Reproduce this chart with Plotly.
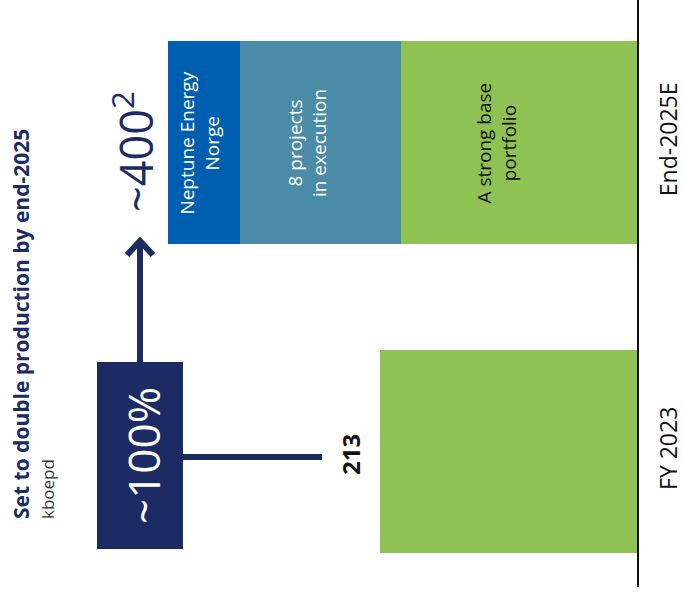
import plotly.graph_objects as go

# data (kboepd)
categories = ["FY 2023", "End-2025E"]
base_portfolio = [213, 196]
projects = [None, 133]
neptune = [None, 60]
segment_labels = ["A strong base<br>portfolio", "8 projects<br>in execution", "Neptune Energy<br>Norge"]

NAVY = "#1c2b64"
GREEN = "#8fc153"
TEAL = "#4a8ca8"
BLUE = "#005eb0"
FONT = "Open Sans"

W, H = 683, 595
ML, MR, MT, MB = 0, 46, 0, 8
PW, PH = W - ML - MR, H - MT - MB


def px(x):
    # pixel -> paper x
    return (x - ML) / PW


def py(y):
    # pixel -> paper y
    return 1 - (y - MT) / PH


fig = go.Figure()

series = [
    (base_portfolio, GREEN, "#111111", -22),
    (projects, TEAL, "white", -13),
    (neptune, BLUE, "white", -4),
]
start = 0
for (vals, color, txtcolor, shift), label in zip(series, segment_labels):
    fig.add_trace(go.Bar(
        y=categories, x=vals, orientation="h",
        marker=dict(color=color, line=dict(width=0)),
        hoverinfo="skip",
    ))
    # segment label on the End-2025E bar, centred on the segment
    v = vals[1]
    fig.add_annotation(
        xref="x", yref="y", x=start + v / 2, y=categories[1], xshift=shift,
        text=label, showarrow=False, textangle=-90,
        font=dict(family=FONT, size=19, color=txtcolor),
    )
    start += v

# callout box + connectors
fig.add_shape(type="rect", xref="paper", yref="paper",
              x0=px(97), x1=px(183), y0=py(549), y1=py(362),
              fillcolor=NAVY, line=dict(width=0))
fig.add_shape(type="line", xref="paper", yref="paper",
              x0=px(183), x1=px(322), y0=py(457), y1=py(457),
              line=dict(color=NAVY, width=6))
fig.add_shape(type="line", xref="paper", yref="paper",
              x0=px(140), x1=px(140), y0=py(362), y1=py(241),
              line=dict(color=NAVY, width=6))
fig.add_shape(type="path", xref="paper", yref="paper",
              path=f"M {px(127)},{py(255)} L {px(140)},{py(241)} L {px(153)},{py(255)}",
              line=dict(color=NAVY, width=6))

annos = [
    dict(text="~100%", x=px(143), y=py(456), font=dict(size=44, color="white")),
    dict(text="~400<sup>2</sup>", x=px(133), y=py(152), font=dict(size=45, color=NAVY)),
    dict(text="<b>213</b>", x=px(350), y=py(455), font=dict(size=24, color="#111111")),
    dict(text="<b>Set to double production by end-2025</b>", x=px(21), y=py(324),
         font=dict(size=21, color=NAVY)),
    dict(text="kboepd", x=px(47), y=py(489), font=dict(size=17, color="#333333")),
]
for a in annos:
    fig.add_annotation(xref="paper", yref="paper", showarrow=False, textangle=-90,
                       xanchor="center", yanchor="middle",
                       x=a["x"], y=a["y"], text=a["text"],
                       font=dict(family=FONT, **a["font"]))

fig.update_layout(
    width=W, height=H,
    margin=dict(l=ML, r=MR, t=MT, b=MB, autoexpand=False),
    barmode="stack", bargap=0.343,
    showlegend=False,
    plot_bgcolor="white", paper_bgcolor="white",
    font=dict(family=FONT),
)
fig.update_xaxes(visible=False, range=[PW / (257 / 213), 0], fixedrange=True,
                 automargin=False)
fig.update_yaxes(
    side="right", range=[-0.4376, 1.462], showgrid=False,
    showline=True, linecolor="#111111", linewidth=2,
    tickangle=-90, ticklabelstandoff=10, ticks="",
    tickfont=dict(family=FONT, size=23, color="#111111"),
    fixedrange=True, automargin=False,
)

# page body has a default 8px margin; drop it so the figure fills the window
fig.write_html("out.html", config={"displayModeBar": False},
               post_script="document.body.style.margin='0';")
